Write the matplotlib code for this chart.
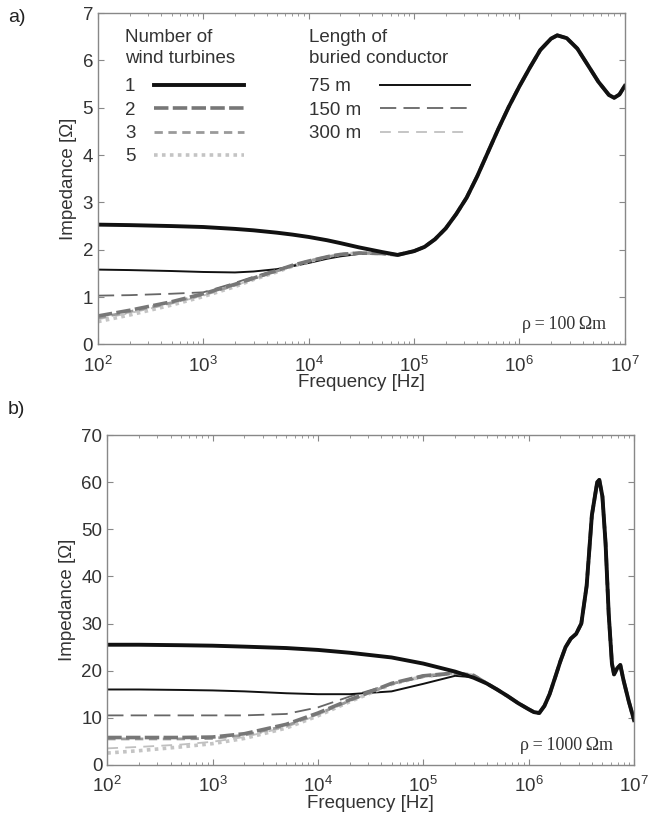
import matplotlib
matplotlib.use("Agg")
import matplotlib.pyplot as plt
import numpy as np

plt.rcParams['font.family'] = ['Liberation Sans', 'DejaVu Sans']
plt.rcParams['mathtext.fontset'] = 'custom'
plt.rcParams['mathtext.rm'] = 'Liberation Sans'
plt.rcParams['mathtext.it'] = 'Liberation Sans:italic'
plt.rcParams['font.size'] = 13.5

# ---- panel a) rho = 100 Ohm m ----
fa_low = [1e2, 2e2, 5e2, 1e3, 2e3, 3e3, 5e3, 7e3, 1e4, 1.5e4, 2e4, 3e4, 5e4, 7e4]
a_wt1 = [2.53, 2.52, 2.50, 2.48, 2.44, 2.41, 2.36, 2.32, 2.27, 2.20, 2.14, 2.05, 1.95, 1.89]
a_wt2 = [0.60, 0.72, 0.90, 1.07, 1.27, 1.40, 1.56, 1.67, 1.76, 1.85, 1.90, 1.93, 1.92, 1.89]
a_wt3 = [0.56, 0.69, 0.88, 1.05, 1.25, 1.39, 1.55, 1.66, 1.76, 1.85, 1.90, 1.93, 1.92, 1.89]
a_wt5 = [0.48, 0.62, 0.83, 1.01, 1.22, 1.37, 1.53, 1.65, 1.75, 1.85, 1.90, 1.93, 1.92, 1.89]
a_l75 = [1.58, 1.57, 1.55, 1.53, 1.52, 1.54, 1.59, 1.65, 1.72, 1.81, 1.86, 1.91, 1.92, 1.89]
a_l150 = [1.03, 1.04, 1.07, 1.10, 1.30, 1.43, 1.58, 1.67, 1.75, 1.83, 1.88, 1.92, 1.92, 1.89]
a_l300 = [0.53, 0.66, 0.86, 1.03, 1.24, 1.38, 1.54, 1.66, 1.76, 1.85, 1.90, 1.93, 1.92, 1.89]
fa_high = [1e5, 1.26e5, 1.58e5, 2e5, 2.51e5, 3.16e5, 3.98e5, 5.01e5, 6.31e5, 7.94e5,
           1e6, 1.26e6, 1.58e6, 2e6, 2.29e6, 2.82e6, 3.55e6, 4.47e6, 5.62e6, 7.08e6,
           7.94e6, 8.91e6, 1e7]
a_high = [1.97, 2.06, 2.22, 2.45, 2.75, 3.10, 3.55, 4.05, 4.55, 5.02,
          5.45, 5.85, 6.22, 6.46, 6.53, 6.47, 6.25, 5.90, 5.55, 5.27,
          5.21, 5.28, 5.46]

# ---- panel b) rho = 1000 Ohm m ----
fb_low = [1e2, 2e2, 5e2, 1e3, 2e3, 5e3, 1e4, 2e4, 5e4, 1e5, 2e5, 3e5]
b_wt1 = [25.5, 25.5, 25.4, 25.3, 25.1, 24.8, 24.4, 23.8, 22.8, 21.5, 19.8, 18.5]
b_wt2 = [5.8, 5.8, 5.8, 5.9, 6.6, 8.6, 11.0, 13.8, 17.3, 18.9, 19.5, 19.0]
b_wt3 = [5.5, 5.5, 5.5, 5.6, 6.3, 8.3, 10.8, 13.6, 17.2, 18.9, 19.5, 19.0]
b_wt5 = [2.5, 3.0, 3.8, 4.5, 5.6, 7.8, 10.4, 13.4, 17.1, 18.8, 19.5, 19.0]
b_l75 = [16.0, 16.0, 15.9, 15.8, 15.6, 15.2, 15.0, 15.0, 15.6, 17.2, 18.9, 18.6]
b_l150 = [10.5, 10.5, 10.5, 10.5, 10.5, 10.8, 12.2, 14.5, 17.2, 18.6, 19.3, 18.9]
b_l300 = [3.5, 3.8, 4.3, 4.9, 5.9, 8.0, 10.6, 13.5, 17.1, 18.8, 19.5, 19.0]
fb_high = [3.98e5, 5.01e5, 6.31e5, 7.94e5, 1e6, 1.12e6, 1.26e6, 1.41e6, 1.58e6, 1.78e6,
           2e6, 2.24e6, 2.51e6, 2.82e6, 3.16e6, 3.55e6, 3.98e6, 4.47e6, 4.68e6, 5.01e6,
           5.37e6, 5.75e6, 6.17e6, 6.46e6, 6.92e6, 7.41e6, 7.94e6, 8.91e6, 1e7]
b_high = [17.3, 16.0, 14.6, 13.1, 11.8, 11.2, 11.0, 12.5, 15.0, 18.5,
          22.0, 25.0, 26.8, 27.8, 30.0, 38.0, 53.0, 60.0, 60.5, 57.0,
          47.0, 32.0, 21.5, 19.2, 20.5, 21.2, 18.0, 13.5, 9.5]

wt_labels = ["1", "2", "3", "5"]
len_labels = ["75 m\u2007", "150 m", "300 m"]

# styles: (color, linewidth, dashes)
wt_styles = [("#111111", 2.8, None), ("#777777", 2.6, (4, 1.2)),
             ("#9a9a9a", 2.0, (3, 2)), ("#c4c4c4", 2.6, (1, 1.2))]
len_styles = [("#111111", 1.4, None), ("#666666", 1.3, (9, 4)),
              ("#c0c0c0", 1.3, (6, 4))]

fig = plt.figure(figsize=(6.66, 8.18), dpi=100)
ax_a = fig.add_axes([0.147, 0.579, 0.791, 0.405])
ax_b = fig.add_axes([0.161, 0.065, 0.791, 0.403])


def draw(ax, f_low, wt, ln, f_high, high):
    f = np.array(f_low + f_high)
    h_wt, h_len = [], []
    # lighter ones first so black stays on top
    for vals, (c, lw, d) in list(zip(ln, len_styles))[::-1]:
        line, = ax.plot(f, vals + high, color=c, lw=lw)
        if d:
            line.set_dashes(d)
        h_len.insert(0, line)
    for vals, (c, lw, d) in list(zip(wt, wt_styles))[::-1]:
        line, = ax.plot(f, vals + high, color=c, lw=lw)
        if d:
            line.set_dashes(d)
        h_wt.insert(0, line)
    return h_wt, h_len


def style(ax, ymax, step):
    ax.set_xscale('log')
    ax.set_xlim(1e2, 1e7)
    ax.set_ylim(0, ymax)
    ax.set_yticks(np.arange(0, ymax + 1, step))
    ax.tick_params(which='both', direction='in', top=True, right=True,
                   colors='#888888', labelcolor='#333333')
    ax.tick_params(which='major', length=4)
    ax.tick_params(which='minor', length=2)
    ax.tick_params(axis='x', which='major', pad=8)
    for s in ax.spines.values():
        s.set_color('#888888')
        s.set_linewidth(1.0)
    ax.set_xlabel('Frequency [Hz]', color='#333333', labelpad=-1)
    ax.set_ylabel('Impedance [Ω]', color='#333333', labelpad=4)


h_wt, h_len = draw(ax_a, fa_low, [a_wt1, a_wt2, a_wt3, a_wt5],
                   [a_l75, a_l150, a_l300], fa_high, a_high)
style(ax_a, 7, 1)
draw(ax_b, fb_low, [b_wt1, b_wt2, b_wt3, b_wt5],
     [b_l75, b_l150, b_l300], fb_high, b_high)
style(ax_b, 70, 10)

leg_kw = dict(loc='upper left', frameon=False, markerfirst=False,
              handlelength=4.8, labelspacing=0.33, borderpad=0,
              borderaxespad=0, alignment='left', fontsize=13.5,
              title_fontsize=13.5, labelcolor='#333333')
leg1 = ax_a.legend(h_wt, wt_labels, title="Number of\nwind turbines",
                   bbox_to_anchor=(0.051, 0.951), handletextpad=1.0, **leg_kw)
ax_a.add_artist(leg1)
leg2 = ax_a.legend(h_len, len_labels, title="Length of\nburied conductor",
                   bbox_to_anchor=(0.40, 0.951), handletextpad=1.0, **leg_kw)
for leg in (leg1, leg2):
    leg.get_title().set_color('#333333')
    leg.get_title().set_linespacing(1.3)
    leg._legend_box.sep = 8

serif = ['Liberation Serif', 'DejaVu Serif']
ax_a.text(0.965, 0.06, 'ρ\u2009=\u2009100\u2009Ωm', transform=ax_a.transAxes,
          ha='right', va='center', family=serif, fontsize=13, color='#333333')
ax_b.text(0.96, 0.058, 'ρ\u2009=\u20091000\u2009Ωm', transform=ax_b.transAxes,
          ha='right', va='center', family=serif, fontsize=13, color='#333333')

fig.text(0.012, 0.979, 'a)', fontsize=14, color='#222222', va='center')
fig.text(0.012, 0.500, 'b)', fontsize=14, color='#222222', va='center')

fig.savefig('out.png', dpi=100)
